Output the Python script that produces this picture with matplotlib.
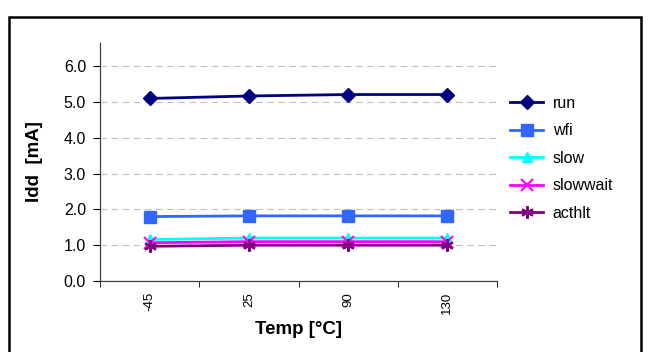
import matplotlib
matplotlib.use("Agg")
import matplotlib.pyplot as plt
from matplotlib.patches import Rectangle

plt.rcParams['font.family'] = ['Liberation Sans', 'DejaVu Sans']

temps = ["-45", "25", "90", "130"]
run = [5.10, 5.17, 5.21, 5.21]
wfi = [1.80, 1.82, 1.82, 1.82]
slow = [1.16, 1.20, 1.20, 1.20]
slowwait = [1.07, 1.10, 1.10, 1.10]
acthlt = [0.97, 1.00, 1.00, 1.00]

series = [
    ("run", run, "#000080", "D", 7),
    ("wfi", wfi, "#3366FF", "s", 8),
    ("slow", slow, "#00FFFF", "^", 7),
    ("slowwait", slowwait, "#FF00FF", "x", 8),
    ("acthlt", acthlt, "#800080", (6, 2, 0), 9),
]

fig = plt.figure(figsize=(6.5, 3.52), dpi=100)
# outer chart frame
fig.patches.append(Rectangle((9 / 650, -0.05), 632 / 650, 1 - 17 / 352 + 0.05,
                             transform=fig.transFigure, fill=False,
                             edgecolor="black", linewidth=1.8))

ax = fig.add_axes([100 / 650, 1 - 281 / 352, 397 / 650, 238 / 352])
x = list(range(len(temps)))
for name, vals, color, mk, ms in series:
    thin = mk == "x" or isinstance(mk, tuple)
    ax.plot(x, vals, color=color, marker=mk, markersize=ms, linewidth=2,
            markeredgewidth=1.5 if thin else 1, label=name)

ax.set_xlim(-0.5, 3.5)
ax.set_ylim(0, 6.65)
ax.set_yticks([0, 1, 2, 3, 4, 5, 6])
ax.set_yticklabels([f"{v:.1f}" for v in range(7)], fontsize=11.5)
ax.set_xticks(x)
ax.set_xticklabels(temps, rotation=90, fontsize=9.5)
ax.set_xticks([-0.5, 0.5, 1.5, 2.5, 3.5], minor=True)
ax.tick_params(axis="x", which="major", length=0, pad=8)
ax.tick_params(axis="x", which="minor", length=4, direction="out")
ax.tick_params(axis="y", length=5, pad=5)

ax.grid(axis="y", linestyle=(0, (6, 4)), color="#C0C0C0", linewidth=0.8)
ax.set_axisbelow(True)
for side in ("top", "right"):
    ax.spines[side].set_visible(False)
for side in ("left", "bottom"):
    ax.spines[side].set_color("#404040")
    ax.spines[side].set_linewidth(0.9)

ax.set_ylabel("Idd  [mA]", fontsize=13.5, fontweight="bold")
ax.yaxis.set_label_coords(-0.144, 0.5)
ax.set_xlabel("Temp [\u00b0C]", fontsize=13.5, fontweight="bold", labelpad=5)

ax.legend(loc="upper left", bbox_to_anchor=(510 / 650, 1 - 96 / 352),
          bbox_transform=fig.transFigure, frameon=False, borderpad=0,
          borderaxespad=0, fontsize=11.5, handlelength=2.07,
          handletextpad=0.6, labelspacing=0.78)

fig.savefig("out.png", dpi=100)
